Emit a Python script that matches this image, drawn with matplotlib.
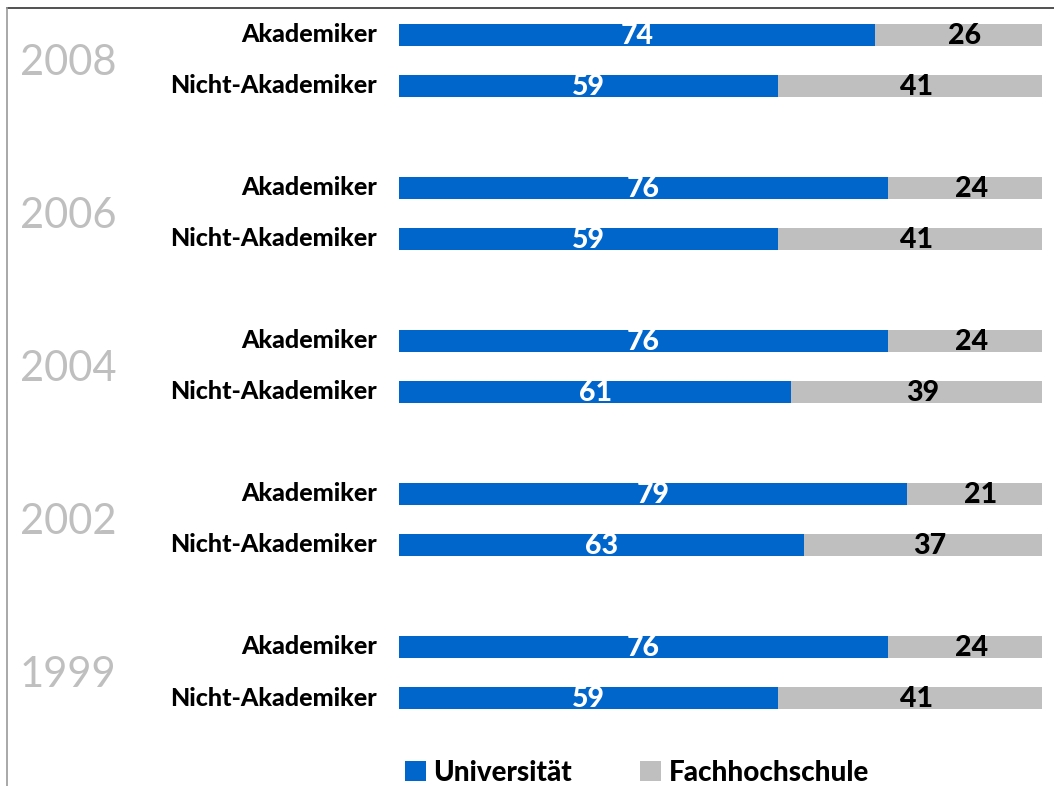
import matplotlib
matplotlib.use("Agg")
import matplotlib.pyplot as plt
from matplotlib.lines import Line2D
from matplotlib.patches import Patch

years = ["2008", "2006", "2004", "2002", "1999"]
groups = ["Akademiker", "Nicht-Akademiker"]
universitaet = [[74, 59], [76, 59], [76, 61], [79, 63], [76, 59]]
fachhochschule = [[26, 41], [24, 41], [24, 39], [21, 37], [24, 41]]
series_names = ["Universität", "Fachhochschule"]

BLUE = "#0066CC"
GREY = "#BFBFBF"
FONT = ["Lato", "DejaVu Sans"]
plt.rcParams["font.family"] = FONT

W, H = 1054, 786
fig = plt.figure(figsize=(W / 100, H / 100), dpi=100)
ax = fig.add_axes([399 / W, 0, (1042 - 399) / W, 1])

unit = 51.0
y0 = 35.0
ax.set_ylim((H - y0) / unit, -y0 / unit)
ax.set_xlim(0, 100)
ax.axis("off")

bar_h = 22 / unit
for g, year in enumerate(years):
    for k, grp in enumerate(groups):
        y = g * 3 + k
        u = universitaet[g][k]
        f = fachhochschule[g][k]
        ax.barh(y, u, height=bar_h, color=BLUE, left=0)
        ax.barh(y, f, height=bar_h, color=GREY, left=u)
        ax.text(u / 2, y + 0.02, str(u), ha="center", va="center", color="white",
                fontsize=20.5, fontweight="black")
        ax.text(u + f / 2 + 1, y + 0.02, str(f), ha="center", va="center", color="black",
                fontsize=20.5, fontweight="black")
        ax.text(-3.4, y, grp, ha="right", va="center", color="black",
                fontsize=18, fontweight="black", clip_on=False)
    ax.text(-51.5, g * 3 + 0.55, year, ha="center", va="center", color=GREY,
            fontsize=30, clip_on=False)

# frame lines
fig.add_artist(Line2D([7 / W, 1], [1 - 8 / H, 1 - 8 / H], color="#333333", lw=1.2,
                      transform=fig.transFigure))
fig.add_artist(Line2D([7 / W, 7 / W], [0, 1 - 8 / H], color="#999999", lw=1.2,
                      transform=fig.transFigure))

handles = [Patch(facecolor=BLUE, edgecolor="none"), Patch(facecolor=GREY, edgecolor="none")]
fig.legend(handles, series_names, loc="center left", bbox_to_anchor=(380 / W, 1 - 773 / H),
           ncol=2, frameon=False, handlelength=0.75, handleheight=0.75, handletextpad=0.28,
           columnspacing=2.45, prop={"family": FONT, "weight": "black", "size": 20})

fig.savefig("out.png", dpi=100)
